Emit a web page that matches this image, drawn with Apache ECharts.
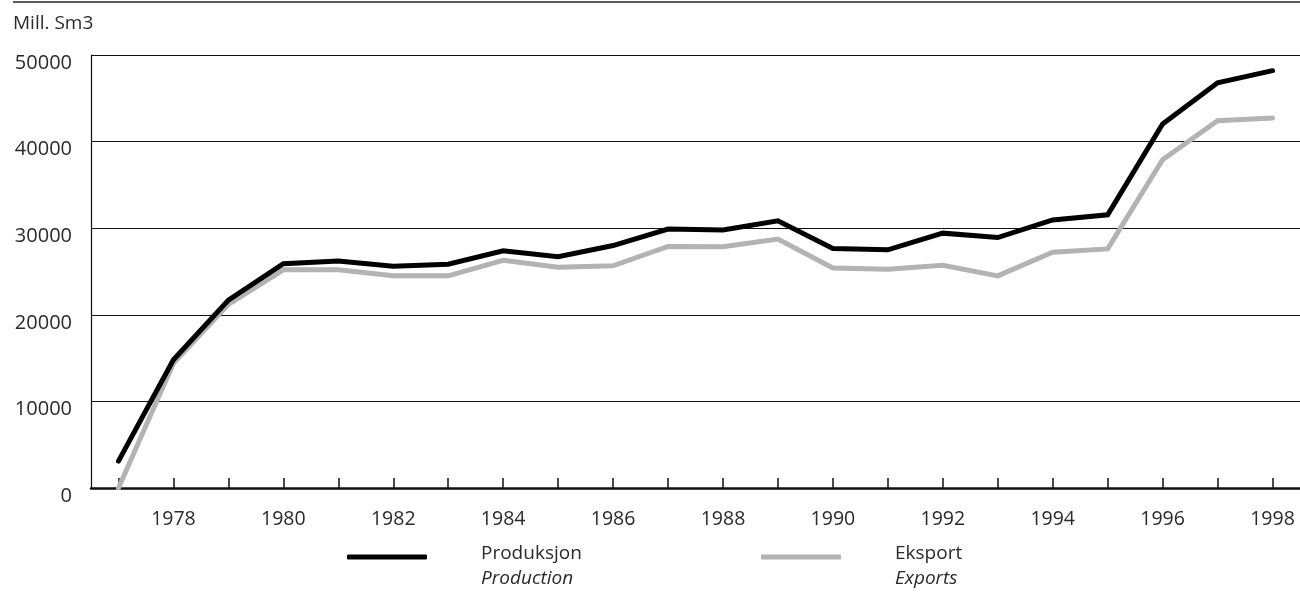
<!DOCTYPE html>
<html>
<head>
<meta charset="utf-8">
<script src="https://cdn.jsdelivr.net/npm/echarts@6/dist/echarts.min.js"></script>
<style>
html,body{margin:0;padding:0;background:#fff;}
#c{width:1300px;height:592px;}
</style>
</head>
<body>
<div id="c"></div>
<script>
const years = ['1977','1978','1979','1980','1981','1982','1983','1984','1985','1986','1987','1988','1989','1990','1991','1992','1993','1994','1995','1996','1997','1998'];
const production = [3100,14800,21700,25900,26200,25600,25850,27400,26700,28000,29900,29800,30850,27650,27500,29430,28920,30960,31540,42040,46800,48190];
const exports_ = [0,14400,21200,25200,25200,24500,24500,26300,25500,25650,27900,27850,28750,25400,25270,25730,24500,27230,27610,37900,42420,42730];
const yTicks = [0,10000,20000,30000,40000,50000];
const unitLabel = 'Mill. Sm3';
const seriesNames = ['Produksjon', 'Eksport'];
const seriesNamesEn = ['Production', 'Exports'];

const FONT = '"Open Sans", "Noto Sans", sans-serif';
const TXT = '#2a2a2a';
const chart = echarts.init(document.getElementById('c'), null, {renderer: 'canvas'});

function legendFor(idx, left, color) {
  return {
    data: [seriesNames[idx]],
    left: left,
    top: 544.5,
    padding: 0,
    orient: 'horizontal',
    icon: 'roundRect',
    itemWidth: 80,
    itemHeight: 5,
    selectedMode: false,
    itemStyle: {color: color},
    formatter: function (n) { return '{a|' + n + '}\n{b|' + seriesNamesEn[idx] + '}'; },
    textStyle: {
      fontFamily: FONT,
      padding: [19, 0, 0, 49],
      rich: {
        a: {fontFamily: FONT, fontSize: 19, color: TXT, lineHeight: 25},
        b: {fontFamily: FONT, fontSize: 19, color: TXT, lineHeight: 25, fontStyle: 'italic'}
      }
    }
  };
}

chart.setOption({
  animation: false,
  backgroundColor: '#fff',
  title: {
    text: unitLabel,
    left: 13, top: 14, padding: 0,
    textStyle: {fontFamily: FONT, fontSize: 19, fontWeight: 'normal', color: TXT}
  },
  graphic: [{
    type: 'line',
    shape: {x1: 13, y1: 2, x2: 1300, y2: 2},
    style: {stroke: '#222', lineWidth: 1.5}
  }],
  legend: [legendFor(0, 347, '#000'), legendFor(1, 761, '#b3b3b3')],
  grid: {left: 91, right: 0, top: 55, bottom: 104, containLabel: false},
  xAxis: {
    type: 'category',
    data: years,
    boundaryGap: true,
    axisLine: {show: true, lineStyle: {color: '#111', width: 2.5}},
    axisTick: {show: true, alignWithLabel: true, interval: 0, length: 10, inside: true, lineStyle: {color: '#111', width: 1.5}},
    axisLabel: {
      interval: function (i) { return i % 2 === 1; },
      margin: 21,
      fontFamily: FONT, fontSize: 19.5, color: TXT
    },
    splitLine: {show: false}
  },
  yAxis: {
    type: 'value',
    min: 0, max: 50000, interval: 10000,
    axisLine: {show: true, lineStyle: {color: '#111', width: 1.2}},
    axisTick: {show: false},
    axisLabel: {
      margin: 19, fontFamily: FONT, fontSize: 20, color: TXT,
      verticalAlign: 'top', lineHeight: 16,
      formatter: function (v) { return yTicks.indexOf(v) >= 0 ? String(v) : ''; }
    },
    splitLine: {show: true, lineStyle: {color: '#111', width: 1.2}}
  },
  series: [
    {
      name: seriesNames[1], type: 'line', data: exports_, symbol: 'none', z: 3,
      lineStyle: {color: '#b3b3b3', width: 5, cap: 'round', join: 'miter'},
      itemStyle: {color: '#b3b3b3'}
    },
    {
      name: seriesNames[0], type: 'line', data: production, symbol: 'none', z: 4,
      lineStyle: {color: '#000', width: 5, cap: 'round', join: 'miter'},
      itemStyle: {color: '#000'}
    }
  ]
});
</script>
</body>
</html>
